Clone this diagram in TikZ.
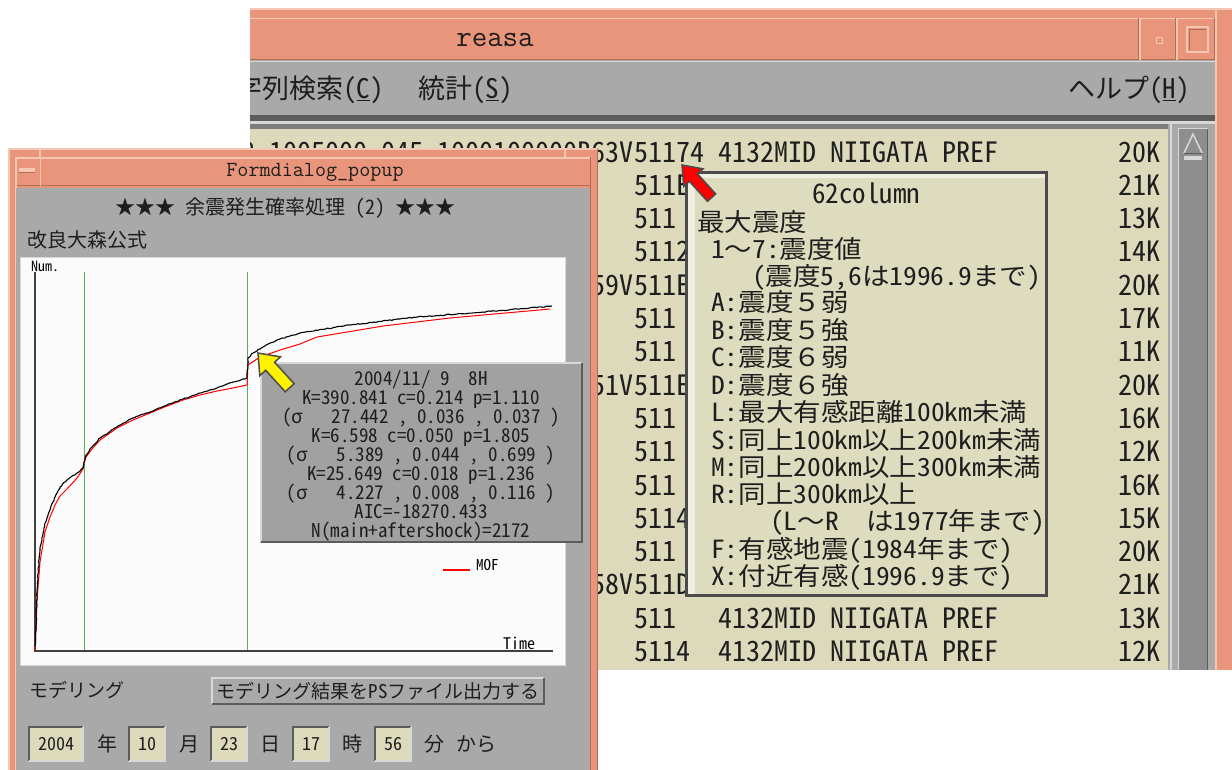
\documentclass[tikz,border=0pt]{standalone}
\usepackage{fontspec}
\usetikzlibrary{decorations.pathmorphing}
\newfontfamily\jp{Noto Sans CJK JP}[RawFeature=+hwid]
\newfontfamily\jpp{Noto Sans CJK JP}[RawFeature=+hwid,FakeStretch=1.1]
\newfontfamily\jpf{Noto Sans CJK JP}[FakeStretch=1.1]
\newfontfamily\ttl{Latin Modern Mono}
\newcommand\fsz[1]{\fontsize{#1}{#1}\selectfont}
\newcommand\mono[1]{\jp\fsz{#1}\fontdimen2\font=0.5em\fontdimen3\font=0pt\fontdimen4\font=0pt}
\newcommand\popmono[1]{\jpp\fsz{#1}\fontdimen2\font=0.55em\fontdimen3\font=0pt\fontdimen4\font=0pt}
\newcommand\fw[1]{{\jpf #1}}
\definecolor{salmon}{HTML}{E8957B}
\definecolor{salmonlt}{HTML}{F6C6B5}
\definecolor{salmondk}{HTML}{B46C58}
\definecolor{wgray}{HTML}{A9A9A9}
\definecolor{wgraylt}{HTML}{D8D8D8}
\definecolor{wgraydk}{HTML}{5C5C5C}
\definecolor{tbg}{HTML}{DCDABA}
\definecolor{pbg}{HTML}{DEDCBE}
\definecolor{ink}{HTML}{1E1E1E}
\definecolor{plotgreen}{HTML}{5FAA5F}
\definecolor{sbar}{HTML}{8E8E8E}
\newcommand\bvl[7]{%
  \fill[#5] (#1,#2) rectangle (#3,#4);
  \draw[#6,line width=2pt] (#1+1,#4-1) -- (#1+1,#2+1) -- (#3-1,#2+1);
  \draw[#7,line width=2pt] (#1+1,#4-1) -- (#3-1,#4-1) -- (#3-1,#2+1);}
\newcommand\blockarrow[7]{%
  \begin{scope}[shift={(#1)},rotate=#2]
  \filldraw[fill=#7,draw=ink!80,line width=1.5pt,line join=miter]
    (0,0) -- (-#4,#5/2) -- (-#4,#6/2) -- (-#3,#6/2) -- (-#3,-#6/2) -- (-#4,-#6/2) -- (-#4,-#5/2) -- cycle;
  \end{scope}}
\begin{document}
\begin{tikzpicture}[x=1pt,y=-1pt,
  tbl/.style={font=\mono{28}, inner sep=0pt, text=ink},
  pop/.style={font=\popmono{25}, inner sep=0pt, text=ink, anchor=base west},
  info/.style={font=\mono{19}, inner sep=0pt, text=ink, anchor=base},
  ui/.style={font=\mono{20}, inner sep=0pt, text=ink},
  menu/.style={font=\mono{27}, inner sep=0pt, text=ink, anchor=west},
  ttlfont/.style={inner sep=0pt, text=ink}]
\useasboundingbox (0,0) rectangle (1232,769);
\fill[white] (0,0) rectangle (1232,769);

% ================= main window "reasa" =================
\begin{scope}
\clip (250,8) rectangle (1232,670);
\fill[salmon] (240,8) rectangle (1232,670);
\draw[salmonlt,line width=1.5pt] (240,9) -- (1232,9);
\draw[salmonlt,line width=1.5pt] (1216,8) -- (1216,670);
% title bar
\fill[salmon] (240,18) rectangle (1215,60);
\draw[salmonlt,line width=1.5pt] (240,18.5) -- (1215,18.5);
\draw[salmondk,line width=1.5pt] (240,59.5) -- (1215,59.5);
\draw[salmondk,line width=1.5pt] (1214.5,18) -- (1214.5,60);
\draw[salmonlt,line width=1.5pt] (1140,18) -- (1140,60) (1177,18) -- (1177,60);
\draw[salmondk,line width=1pt] (1138.5,18) -- (1138.5,60) (1175.5,18) -- (1175.5,60);
\draw[salmonlt,line width=1pt] (1156,37) rectangle (1162,43);
\draw[salmonlt,line width=1.2pt] (1187,27) rectangle (1208,52);
\draw[salmondk,line width=1pt] (1189,50) -- (1189,29) -- (1206,29);
\node[ttlfont,font=\ttl\fsz{30}] (reasaTitle) at (495,40) {reasa};
% menu bar
\fill[wgray] (240,60) rectangle (1215,116);
\draw[wgraylt,line width=1pt] (240,61) -- (1215,61);
\fill[wgraydk] (240,115) rectangle (1215,121);
\fill[wgraylt] (240,121) rectangle (1215,124);
\fill[wgraydk!80] (240,124) rectangle (1168,129);
\node[menu] (mSearch) at (208,90) {文字列検索(\underline{C})};
\node[menu] (mStat) at (418,90) {統計(\underline{S})};
\node[menu] (mHelp) at (1068,90) {ヘルプ(\underline{H})};
% table
\fill[tbg] (240,129) rectangle (1168,670);
\fill[wgray] (1168,124) rectangle (1215,670);
\draw[wgraylt,line width=1.5pt] (1171,124) -- (1171,670);
\fill[sbar] (1178,128) rectangle (1208,670);
\draw[wgraylt,line width=1.5pt] (1178.5,670) -- (1178.5,128.5) -- (1207.5,128.5);
\draw[wgraydk,line width=1.5pt] (1207.5,128.5) -- (1207.5,670);
\draw[wgraylt,line width=1.5pt] (1184,153) -- (1193,134) -- (1202,153);
\draw[wgraydk,line width=1pt] (1184,153) -- (1202,153);
\fill[wgraylt] (1184,156) rectangle (1202,160);
\foreach \i/\pre/\mid/\k in {
  1/38 1005000 045 1000100000B63V/51174/20K,
  2//511E/21K, 3//511/13K, 4//5112/14K, 5/59V/511E/20K, 6//511/17K,
  7//511/11K, 8/51V/511E/20K, 9//511/16K, 10//511/12K, 11//511/16K,
  12//5114/15K, 13//511/20K, 14/58V/511D/21K, 15//511/13K, 16//5114/12K}{
  \pgfmathsetmacro\yb{162+33.3*(\i-1)}
  \node[tbl,anchor=base east] (pre\i) at (634,\yb) {\pre};
  \node[tbl,anchor=base west] (mid\i) at (634,\yb) {\mid};
  \node[tbl,anchor=base west] (loc\i) at (718,\yb) {4132MID NIIGATA PREF};
  \node[tbl,anchor=base east] (k\i) at (1161,\yb) {\k};
}
% popup 62column
\fill[pbg] (685,171) rectangle (1048,597);
\fill[white!55!pbg] (688,174) rectangle (695,594);
\fill[white!55!pbg] (688,174) rectangle (1045,178);
\draw[ink!80,line width=3pt] (686.5,172.5) rectangle (1046.5,595.5);
\node[tbl,font=\mono{27}] (popTitle) at (866,193) {62column};
\node[pop] (p1) at (697,231) {最大震度};
\node[pop] (p2) at (711,258) {1\fw{～}7:震度値};
\node[pop] (p3) at (752,285) {(震度5,6は1996.9まで)};
\node[pop] (p4) at (711,311) {A:震度\fw{５}弱};
\node[pop] (p5) at (711,339) {B:震度\fw{５}強};
\node[pop] (p6) at (711,366) {C:震度\fw{６}弱};
\node[pop] (p7) at (711,394) {D:震度\fw{６}強};
\node[pop] (p8) at (711,421) {L:最大有感距離100km未満};
\node[pop] (p9) at (711,449) {S:同上100km以上200km未満};
\node[pop] (p10) at (711,476) {M:同上200km以上300km未満};
\node[pop] (p11) at (711,503) {R:同上300km以上};
\node[pop] (p12) at (770,530) {(L\fw{～}R\ \ は1977年まで)};
\node[pop] (p13) at (711,558) {F:有感地震(1984年まで)};
\node[pop] (p14) at (711,585) {X:付近有感(1996.9まで)};
\end{scope}
% red arrow
\coordinate (redTip) at (682,165);
\blockarrow{redTip}{132.2}{44}{17}{26}{11}{red}

% ================= dialog Formdialog_popup =================
\fill[salmon] (8,148) rectangle (598,775);
\draw[salmonlt,line width=1.5pt] (8.75,775) -- (8.75,148.75) -- (597.25,148.75);
\draw[salmondk,line width=1.5pt] (597.25,148.75) -- (597.25,775);
\draw[salmonlt,line width=1.2pt] (40,148) -- (40,157) (565,148) -- (565,157);
\fill[salmon] (15,157) rectangle (591,186);
\draw[salmonlt,line width=1.5pt] (15,157.75) -- (591,157.75);
\draw[salmondk,line width=1.5pt] (15,185.25) -- (591,185.25);
\draw[salmonlt,line width=1.5pt] (40.5,157) -- (40.5,186);
\draw[salmonlt,line width=1.5pt] (15.75,157) -- (15.75,775);
\draw[salmondk,line width=1.5pt] (590.25,157) -- (590.25,775);
\fill[salmonlt] (19,168) rectangle (35,172);
\draw[salmondk,line width=1pt] (19,172.5) -- (35,172.5);
\node[ttlfont,font=\ttl\fsz{21.5}] (dlgTitle) at (315,172) {Formdialog\_popup};
\fill[wgray] (16,188) rectangle (589.5,775);
\node[ui] (stars) at (285,208) {★★★ 余震発生確率処理 (2) ★★★};
\node[ui,anchor=west] (formula) at (27,240) {改良大森公式};
% plot
\fill[white!97!gray] (20,257) rectangle (565,665);
\draw[wgraylt,line width=1pt] (20,257) rectangle (565,665);
\draw[plotgreen,line width=1pt] (84,272) -- (84,651) (247,272) -- (247,651);
\draw[ink!85,line width=1.2pt] (35,272) -- (35,651) -- (553,651);
\node[font=\mono{14},inner sep=0pt,anchor=west] (numLbl) at (31,266) {Num.};
\node[font=\mono{16},inner sep=0pt,anchor=west] (timeLbl) at (503,643) {Time};
\draw[red,line width=1pt,line join=round] (35,651) -- (36,630) -- (37,600) -- (40,562) -- (45,532) -- (50,517) -- (55,505) -- (60,496) -- (67,489) -- (77,478) -- (83,469) -- (84,463) -- (86,457) -- (92,449) -- (100,440) -- (117,428) -- (133,420) -- (150,413) -- (167,406) -- (183,400) -- (200,395) -- (217,391) -- (233,388) -- (247,385) -- (248,365) -- (260,357) -- (280,350) -- (300,344) -- (317,337) -- (383,326) -- (450,318) -- (550,309);
\draw[black,line width=1.1pt,line join=round,decorate,decoration={random steps,segment length=2pt,amplitude=0.5pt}] (35,646) -- (36,627) -- (37,590) -- (40,550) -- (45,523) -- (50,510) -- (55,497) -- (60,487) -- (67,480) -- (77,473) -- (83,468) -- (84,462) -- (86,455) -- (92,447) -- (100,438) -- (117,427) -- (133,418) -- (150,412) -- (167,405) -- (183,399) -- (200,393) -- (217,388) -- (233,382) -- (247,378) -- (248,358) -- (253,353) -- (263,347) -- (277,340) -- (290,336) -- (300,333) -- (350,325) -- (417,317) -- (483,312) -- (552,306);
\draw[red,line width=1.2pt] (443,570) -- (470,570);
\node[font=\mono{15},inner sep=0pt,anchor=west] (mofLbl) at (476,565) {MOF};
% info box
\bvl{260}{362}{583}{543}{wgray!95!black}{wgraylt}{wgraydk}
\node[info] (i1) at (421,385) {2004/11/\ 9\ \ 8H};
\node[info] (i2) at (421,404) {K=390.841 c=0.214 p=1.110};
\node[info] (i3) at (421,423) {(σ\ \ \ 27.442 , 0.036 , 0.037 )};
\node[info] (i4) at (421,442) {K=6.598 c=0.050 p=1.805};
\node[info] (i5) at (421,461) {(σ\ \ \ 5.389 , 0.044 , 0.699 )};
\node[info] (i6) at (421,480) {K=25.649 c=0.018 p=1.236};
\node[info] (i7) at (421,499) {(σ\ \ \ 4.227 , 0.008 , 0.116 )};
\node[info] (i8) at (421,518) {AIC=-18270.433};
\node[info] (i9) at (421,537) {N(main+aftershock)=2172};
% yellow arrow
\coordinate (yelTip) at (258,353);
\blockarrow{yelTip}{132.4}{47}{18}{28}{12}{yellow}
% bottom controls
\node[ui,font=\mono{19},anchor=west] (modeling) at (29,690) {モデリング};
\bvl{211}{677}{545}{705}{wgray}{wgraylt}{wgraydk}
\node[ui,font=\mono{19}] (psBtn) at (378,691) {モデリング結果をPSファイル出力する};
\bvl{28}{726}{84}{762}{tbg}{wgraydk}{wgraylt}
\bvl{128}{726}{166}{762}{tbg}{wgraydk}{wgraylt}
\bvl{210}{726}{248}{762}{tbg}{wgraydk}{wgraylt}
\bvl{292}{726}{330}{762}{tbg}{wgraydk}{wgraylt}
\bvl{374}{726}{412}{762}{tbg}{wgraydk}{wgraylt}
\node[ui,font=\mono{18}] (yearV) at (56,744) {2004};
\node[ui,font=\mono{18}] (monV) at (147,744) {10};
\node[ui,font=\mono{18}] (dayV) at (229,744) {23};
\node[ui,font=\mono{18}] (hourV) at (311,744) {17};
\node[ui,font=\mono{18}] (minV) at (393,744) {56};
\node[ui] (yearL) at (107,744) {年};
\node[ui] (monL) at (189,744) {月};
\node[ui] (dayL) at (270,744) {日};
\node[ui] (hourL) at (352,744) {時};
\node[ui] (minL) at (434,744) {分};
\node[ui] (fromL) at (476,744) {から};
\end{tikzpicture}
\end{document}
